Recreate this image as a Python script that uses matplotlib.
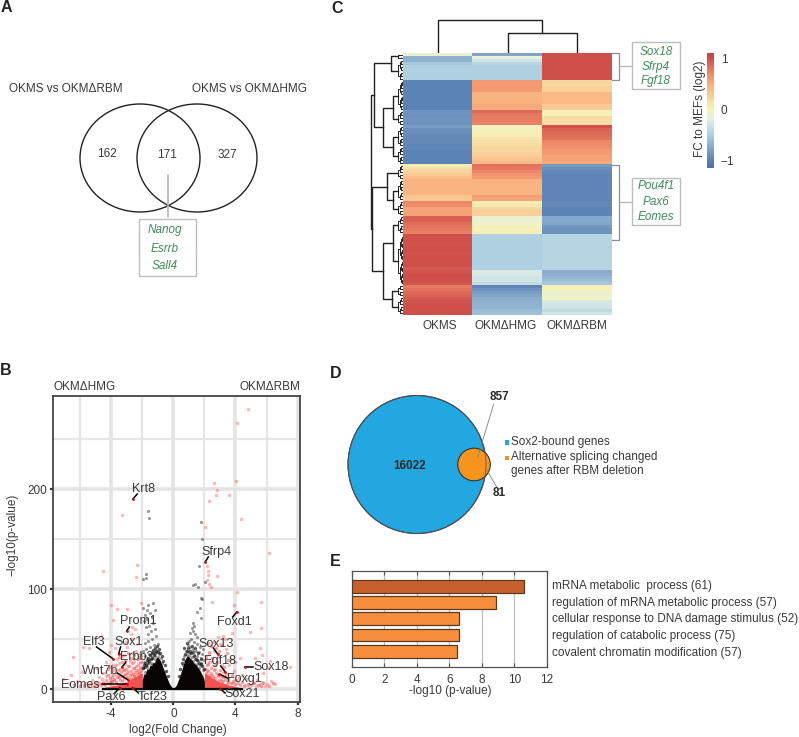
import matplotlib
matplotlib.use("Agg")
import matplotlib.pyplot as plt
import numpy as np
from matplotlib.colors import LinearSegmentedColormap
from matplotlib.patches import Ellipse, Circle, Rectangle

plt.rcParams['font.family'] = ['Liberation Sans', 'DejaVu Sans']

W, H = 799, 737
TXT = "#3a3a3a"
GREEN = "#3f8f5a"

# --- panel A
venn_a_counts = ["162", "171", "327"]
venn_a_genes = ["Nanog", "Esrrb", "Sall4"]

# --- panel C: row values per column, top to bottom
okms = [-0.12, -0.7, -0.7, -0.55, -0.5, -0.5, -0.5, -0.5, -0.5,
        -1.0, -1.0, -1.0, -1.0, -1.0, -1.0, -1.0, -1.0, -1.0, -1.0,
        -0.88, -0.9, -0.9, -0.88, -0.9, -0.82, -0.92, -0.92, -0.95, -0.95, -0.95, -0.97, -0.97, -1.0, -1.0, -1.0, -1.0, -1.0,
        0.03, 0.15, 0.22, 0.3, 0.38,
        0.45, 0.45, 0.45, 0.45, 0.45, 0.32, 0.3,
        0.72, 0.7, 0.55, 0.55, 0.58,
        0.92, 0.92, 0.85, 0.82, 0.8, 0.76,
        1.0, 1.0, 1.0, 0.98, 1.0, 1.0, 0.98, 1.0, 1.0, 1.0, 1.0, 0.95, 0.97, 1.0, 1.0, 1.0, 0.97,
        0.78, 0.82, 0.88, 0.9, 0.95, 0.97, 1.0, 1.0, 1.0, 1.0]
hmg = [-0.78, -0.15, -0.3, -0.45, -0.5, -0.5, -0.5, -0.5, -0.5,
       0.62, 0.6, 0.62, 0.6, 0.45, 0.45, 0.45, 0.48, 0.52, 0.5,
       0.88, 0.8, 0.78, 0.76, 0.74,
       -0.05, -0.02, 0.03, 0.05, 0.1, 0.14, 0.16, 0.2, 0.22, 0.25, 0.3, 0.35, 0.38,
       0.82, 0.8, 0.72, 0.66, 0.6,
       0.45, 0.45, 0.45, 0.45, 0.45, 0.58, 0.55,
       0.05, 0.06, 0.2, 0.26, 0.25,
       -0.12, -0.1, -0.07, -0.03, 0.0, 0.02,
       -0.5, -0.5, -0.5, -0.5, -0.5, -0.5, -0.5, -0.5, -0.5, -0.5, -0.5, -0.5,
       -0.25, -0.25, -0.3, -0.32, -0.38,
       -0.98, -0.9, -0.82, -0.78, -0.72, -0.7, -0.7, -0.68, -0.62, -0.6]
rbm = [1.0, 1.0, 1.0, 1.0, 1.0, 1.0, 1.0, 1.0, 1.0,
       0.2, 0.2, 0.25, 0.25, 0.42, 0.42, 0.42, 0.42, 0.3, 0.28,
       0.0, 0.02, 0.15, 0.15, 0.17,
       1.0, 0.9, 0.88, 0.85, 0.82, 0.72, 0.7, 0.66, 0.62, 0.6, 0.56, 0.55, 0.52,
       -0.85, -0.92, -0.95, -0.98, -0.98, -0.98, -0.98, -0.98, -0.98, -0.98, -0.98, -0.98,
       -0.95, -0.95, -1.0, -1.0, -1.0,
       -0.75, -0.75, -0.78, -0.85, -0.9, -0.9,
       -0.46, -0.46, -0.46, -0.46, -0.46, -0.46, -0.46, -0.46, -0.46, -0.46, -0.46, -0.46,
       -0.72, -0.7, -0.65, -0.6, -0.55,
       0.02, 0.0, -0.1, -0.1, -0.05, -0.28, -0.3, -0.3, -0.42, -0.3]
heat_labels = ["OKMS", "OKMΔHMG", "OKMΔRBM"]
heat_stops = [-1.15, -1.0, -0.5, -0.2, 0.0, 0.45, 0.7, 1.0, 1.1]
heat_colors = ["#4a72ab", "#5c83b5", "#b0d1e2", "#e2f0e6", "#f7f3b8", "#fbb582", "#f08c69", "#d0504c", "#cc4440"]
# row dendrogram: (distance, upper child, lower child), a pair of ints is a row range
row_tree = (32.5,
            (29, (12.5, (0, 1), (2, 8)),
                 (20, (10, (9, 18), (19, 23)), (10, (24, 30), (31, 36)))),
            (31, (16, (37, 41), (10, (42, 48), (49, 53))),
                 (20, (10, (54, 59), (60, 76)), (11, (77, 80), (81, 86)))))
genes_top = ["Sox18", "Sfrp4", "Fgf18"]
genes_bottom = ["Pou4f1", "Pax6", "Eomes"]

# --- panel B: volcano
red_x = [4.83, 4.1, 2.64, 4.03, 2.83, 2.75, 3.6, 2.32, 4.36, 2.02, 6.14, 2.19, 2.23, 2.25, 2.83, 2.19, 2.3, 2.42,
         4.12, 2.49, 5.62, 3.9, 5.67, 4.94, 3.76, 3.18, 2.9, 5.58, 5.26, 5.69, 6.22, 7.5, 5.8, 4.3, 6.1, 3.3, 3.0,
         2.6, 2.3, 2.9, 3.4, 2.2, 2.5, 3.1, 3.7, 2.15, 2.7, 3.2, 3.6, 4.0, 2.4, 2.85, 3.3, 3.9, 4.4, 2.1, 2.55, 3.05,
         3.5, 4.2, 4.7, 5.1, 5.4, 5.7, 6.0, 6.3, 6.55, 5.0, 5.3, 5.55, 5.9, 4.6, 4.9, 3.8, 3.45, 2.35, 2.75, 3.15,
         -3.28, -2.36, -2.38, -4.5, -4.03, -3.65, -2.96, -2.1, -3.86, -2.68, -4.68, -4.0, -6.48, -5.4, -5.8, -4.3, -4.94,
         -5.9, -6.55, -7.08, -6.7, -6.2, -5.6, -5.2, -4.8, -4.5, -4.2, -3.9, -3.6, -3.3, -3.0, -2.7, -2.4, -2.2,
         -5.0, -4.6, -4.3, -4.0, -3.7, -3.4, -3.1, -2.8, -2.5, -2.2, -4.4, -4.1, -3.8, -3.5, -3.2, -2.9, -2.6, -2.3,
         -3.9, -3.6, -3.3, -3.0, -2.7, -2.4, -2.1, -3.4, -3.1, -2.8, -2.5, -2.2, -3.2, -2.9, -2.6, -2.3, -2.15, -3.5,
         -2.45, -2.75, -3.05, -3.75, -4.15, -2.2, -2.55, -2.9, -3.25, -2.35, -2.65, -3.95, -3.15, -2.2, -2.5, -2.85]
red_y = [280, 266, 206, 208, 199, 194, 194, 188, 170, 162, 136, 123, 118, 114, 113, 109, 105, 102,
         97, 87, 87, 84, 61, 57, 56, 53, 52, 41, 31, 34, 28, 22, 16, 31, 21, 50, 45,
         38, 35, 33, 40, 25, 28, 24, 30, 19, 20, 17, 24, 27, 14, 13, 12, 18, 14, 11, 10, 9,
         9, 11, 10, 6, 9, 7, 5, 8, 5, 4, 3, 5, 3, 4, 3, 6, 5, 7, 6, 6,
         174, 124, 112, 118, 84, 80, 80, 86, 69, 62, 53, 44, 32, 41, 42, 27, 21,
         17, 14, 10, 6, 8, 6, 9, 12, 16, 20, 24, 30, 33, 42, 50, 38, 35,
         7, 10, 13, 8, 15, 20, 25, 28, 30, 26, 4, 5, 9, 11, 14, 18, 21, 24,
         3, 5, 8, 11, 15, 19, 22, 4, 6, 10, 13, 17, 3, 5, 8, 11, 14, 26,
         60, 55, 47, 41, 37, 32, 27, 23, 19, 45, 36, 12, 34, 7, 9, 6]
# the dense parts near the floor
red_left_pairs = [(-2.05, 18), (-2.1, 14), (-2.15, 21), (-2.2, 16), (-2.25, 12), (-2.3, 19), (-2.35, 15), (-2.4, 23),
                  (-2.45, 17), (-2.5, 13), (-2.55, 21), (-2.6, 15), (-2.65, 26), (-2.7, 11), (-2.75, 18), (-2.8, 14),
                  (-2.85, 23), (-2.95, 16), (-3.0, 12), (-3.05, 20), (-3.1, 15), (-3.15, 10), (-3.2, 19), (-3.3, 13),
                  (-3.35, 17), (-3.45, 9), (-3.5, 13), (-3.55, 19), (-3.65, 12), (-3.7, 7), (-3.8, 10), (-3.85, 14),
                  (-3.95, 8), (-4.05, 11), (-4.1, 7), (-4.2, 14), (-4.25, 6), (-4.35, 9), (-4.45, 5), (-4.55, 7),
                  (-4.65, 4), (-4.75, 6), (-4.9, 4), (-5.1, 3), (-5.3, 5), (-5.5, 3), (-5.75, 4), (-6.0, 3), (-6.4, 4),
                  (-2.05, 27), (-2.1, 33), (-2.3, 30), (-2.5, 34), (-2.7, 31), (-2.9, 36), (-3.1, 29), (-3.3, 27),
                  (-3.5, 32), (-3.7, 24), (-3.9, 19), (-4.1, 22)]
red_right_pairs = [(2.05, 20), (2.1, 16), (2.15, 24), (2.2, 14), (2.25, 18), (2.3, 27), (2.35, 12), (2.4, 21), (2.45, 16),
                   (2.5, 31), (2.55, 13), (2.6, 19), (2.65, 24), (2.7, 11), (2.75, 16), (2.8, 27), (2.9, 14), (2.95, 9),
                   (3.0, 19), (3.05, 13), (3.1, 8), (3.2, 12), (3.25, 22), (3.35, 9), (3.4, 15), (3.5, 7), (3.55, 11),
                   (3.7, 6), (3.75, 14), (3.85, 8), (3.95, 5), (4.05, 9), (4.15, 6), (4.3, 4), (4.45, 7), (4.55, 3),
                   (4.8, 5), (5.2, 6), (5.45, 4), (5.65, 3), (5.75, 6), (6.15, 3), (6.4, 6), (2.1, 32), (2.3, 37),
                   (2.45, 43), (2.6, 47), (2.75, 41), (2.95, 38), (3.15, 44), (3.45, 36), (3.55, 29), (2.2, 46)]
gray_x = [1.8, 1.87, 1.63, 2.02, 1.39, 1.29, 1.6, 1.76, 1.87, 1.72, 1.55, 1.76, 1.29, 1.18, 1.35, 1.1, 1.25, 1.4, 1.55,
          1.15, 1.0, 1.3, 1.5, 1.7, 1.9, 0.95, 1.1, 1.25, 1.45, 1.65, 1.85, 0.8, 0.95, 1.1, 1.3, 1.55, 1.75, 1.95,
          0.7, 0.85, 1.0, 1.2, 1.4, 1.6, 1.8, 0.9, 1.05, 1.25, 1.5, 1.7, 0.6, 0.75, 1.35, 1.65, 1.9, 1.15, 1.45,
          -1.6, -1.55, -1.76, -1.76, -1.97, -1.93, -1.29, -1.6, -1.72, -1.18, -1.5, -1.85, -1.4, -1.7, -1.9, -1.3, -1.55,
          -1.75, -1.2, -1.45, -1.65, -1.1, -1.35, -1.6, -1.85, -1.0, -1.25, -1.5, -1.75, -1.95, -1.05, -1.3, -1.55, -1.8,
          -0.9, -1.15, -1.4, -1.65, -1.9, -0.8, -1.0, -1.2, -1.45, -1.7, -1.95, -0.7, -0.9, -1.1, -1.35, -1.6, -1.85]
gray_y = [167, 150, 123, 107, 105, 104, 102, 91, 90, 81, 77, 71, 66, 61, 63, 56, 58, 55, 52,
          50, 48, 47, 45, 42, 40, 44, 42, 40, 38, 37, 35, 38, 37, 36, 34, 33, 31, 29,
          33, 34, 33, 32, 30, 28, 26, 30, 30, 28, 25, 24, 24, 28, 25, 21, 19, 27, 23,
          178, 171, 115, 111, 110, 81, 86, 84, 79, 79, 76, 74, 72, 70, 68, 66, 63,
          62, 60, 58, 55, 53, 50, 48, 46, 45, 44, 42, 40, 38, 38, 37, 35, 33,
          35, 33, 31, 29, 27, 31, 32, 30, 26, 23, 21, 26, 28, 27, 24, 20, 17]
dark_pairs = [(-1.95, 21), (-1.9, 24), (-1.85, 22), (-1.8, 26), (-1.75, 24), (-1.7, 29), (-1.65, 26), (-1.6, 31), (-1.55, 28),
              (-1.5, 34), (-1.45, 30), (-1.4, 36), (-1.35, 31), (-1.3, 39), (-1.25, 34), (-1.2, 41), (-1.15, 36), (-1.1, 38),
              (-1.05, 43), (-1.0, 37), (-0.95, 40), (-0.85, 36), (-0.75, 33), (-0.65, 28), (-0.55, 24), (-0.45, 18), (-0.35, 13),
              (0.35, 13), (0.45, 20), (0.55, 26), (0.65, 30), (0.75, 35), (0.85, 38), (0.95, 41), (1.05, 38), (1.15, 36),
              (1.25, 37), (1.35, 33), (1.45, 30), (1.55, 29), (1.65, 26), (1.75, 25), (1.85, 23), (1.95, 20), (0.7, 41),
              (0.9, 46), (1.2, 43), (1.4, 41), (1.6, 36), (1.8, 30)]
cloud_x = [-2.0, -1.9, -1.8, -1.7, -1.6, -1.5, -1.4, -1.3, -1.2, -1.1, -1.0, -0.9, -0.8, -0.7, -0.6, -0.5, -0.4, -0.3, -0.2, -0.1,
           0.0, 0.1, 0.2, 0.3, 0.4, 0.5, 0.6, 0.7, 0.8, 0.9, 1.0, 1.1, 1.2, 1.3, 1.4, 1.5, 1.6, 1.7, 1.8, 1.9, 2.0]
cloud_y = [9, 15, 15, 20, 19, 24, 23, 27, 26, 31, 32, 30, 27, 23, 19, 15, 11, 7, 4, 2,
           0.5, 2, 4, 8, 12, 17, 22, 27, 31, 33, 32, 30, 29, 26, 25, 23, 21, 19, 16, 13, 8]
red_left_x = [-4.4, -3.6, -3.0, -2.5, -2.0]
red_left_y = [2, 4, 7, 12, 16]
red_right_x = [2.0, 2.5, 3.0, 3.6, 4.2]
red_right_y = [16, 11, 7, 4, 2]
base_x = [-4.5, 4.4]
base_y = [0.3, 0.3]
volcano_genes = ["Krt8", "Sfrp4", "Prom1", "Foxd1", "Elf3", "Sox1", "Sox13", "Erbb3", "Fgf18", "Sox18",
                 "Wnt7b", "Foxg1", "Eomes", "Sox21", "Tcf23", "Pax6"]
label_x = [-1.93, 2.79, -2.23, 3.95, -5.15, -2.9, 2.75, -2.36, 3.0, 6.27, -4.72, 4.57, -6.0, 4.44, -1.33, -3.99]
label_y = [200, 137, 68, 67, 47, 47, 45, 32, 28, 22, 18, 10, 4, -5, -8, -8]
lead_x0 = [-2.32, 2.25, -2.83, 3.82, -4.94, -3.39, 2.58, -3.05, 3.05, 5.15, -3.6, 3.48, -4.61, 3.33, -2.25, -3.76]
lead_y0 = [195, 132, 62, 72, 42, 42, 41, 27, 23, 22, 16, 11, 5, -4, -4, -4]
lead_x1 = [-2.6, 2.05, -3.0, 4.08, -3.86, -3.52, 2.85, -3.3, 3.35, 4.64, -2.9, 2.96, -3.0, 3.0, -2.62, -3.43]
lead_y1 = [190, 127, 58, 77, 30, 35, 35, 22, 17, 22, 9, 15, 5, 0.5, 1.5, 1.5]

# --- panel D
venn_d_counts = ["16022", "857", "81"]
legend_d = ["Sox2-bound genes", "Alternative splicing changed", "genes after RBM deletion"]

# --- panel E
terms = ["mRNA metabolic  process (61)", "regulation of mRNA metabolic process (57)",
         "cellular response to DNA damage stimulus (52)", "regulation of catabolic process (75)",
         "covalent chromatin modification (57)"]
term_values = [10.6, 8.85, 6.6, 6.58, 6.5]
bar_colors = ["#c8602b", "#f68e3e", "#f68e3e", "#f68e3e", "#f68e3e"]


def px_axes(fig, l, t, r, b):
    return fig.add_axes([l / W, 1 - b / H, (r - l) / W, (b - t) / H])


fig = plt.figure(figsize=(W / 100, H / 100), dpi=100)

# overlay in pixel coordinates for labels and hand placed annotation
ov = fig.add_axes([0, 0, 1, 1], zorder=10)
ov.set_xlim(0, W)
ov.set_ylim(H, 0)
ov.axis("off")
ov.patch.set_alpha(0)


def t(x, y, s, size=8.5, ha="center", va="center", color=TXT, **kw):
    ov.text(x, y, s, fontsize=size, ha=ha, va=va, color=color, **kw)


for lab, x, y in [("A", 6, 7), ("C", 337, 8), ("B", 6, 370), ("D", 336, 373), ("E", 335, 562)]:
    t(x, y, lab, size=11.5, weight="bold", color="#222222")

# A
t(66, 89, "OKMS vs OKMΔRBM")
t(249, 89, "OKMS vs OKMΔHMG")
ov.add_patch(Ellipse((140, 158), 120, 108, fill=False, ec="#222222", lw=1))
ov.add_patch(Ellipse((197, 158), 120, 108, fill=False, ec="#222222", lw=1))
for x, y, s in zip([107, 167, 227], [154, 155, 155], venn_a_counts):
    t(x, y, s)
ov.plot([168, 168], [175, 217], color="#b5b5b5", lw=1.2)
ov.add_patch(Rectangle((139, 219), 57, 57, fill=False, ec="#bdbdbd", lw=1))
for y, g in zip([230, 249, 266], venn_a_genes):
    t(165, y, g, color=GREEN, style="italic")

# C heat map
ax_heat = px_axes(fig, 403, 53, 612, 315)
norm = [(s - heat_stops[0]) / (heat_stops[-1] - heat_stops[0]) for s in heat_stops]
cmap = LinearSegmentedColormap.from_list("fc", list(zip(norm, heat_colors)))
heat = np.array([okms, hmg, rbm]).T
ax_heat.imshow(heat, aspect="auto", cmap=cmap, vmin=heat_stops[0], vmax=heat_stops[-1], interpolation="nearest")
ax_heat.set_xticks([])
ax_heat.set_yticks([])
for s in ax_heat.spines.values():
    s.set_visible(False)
for x, s in zip([440, 506, 577], heat_labels):
    t(x, 326, s)

# column dendrogram
ax_top = px_axes(fig, 403, 15, 612, 53)
ax_top.set_xlim(-0.5, 2.5)
ax_top.set_ylim(0, 38)
ax_top.axis("off")
ax_top.plot([1, 1, 2, 2], [0, 20.5, 20.5, 0], color="#222222", lw=1)
ax_top.plot([0, 0, 1.5, 1.5], [0, 33, 33, 20.5], color="#222222", lw=1)

# row dendrogram
ax_den = px_axes(fig, 368, 53, 403, 315)
ax_den.set_xlim(35, 0)
ax_den.set_ylim(len(okms) - 0.5, -0.5)
ax_den.axis("off")


def draw_range(a, b, d):
    if a == b:
        return a
    m = (a + b) // 2
    d2 = max(d * 0.55, 0.5)
    y1 = draw_range(a, m, d2)
    y2 = draw_range(m + 1, b, d2)
    ax_den.plot([0 if a == m else d2, d, d, 0 if m + 1 == b else d2], [y1, y1, y2, y2], color="#222222", lw=0.7)
    return (y1 + y2) / 2


def draw_node(node, d_parent):
    if len(node) == 2:
        d = min(d_parent * 0.6, 5)
        return draw_range(node[0], node[1], d), d
    y1, d1 = draw_node(node[1], node[0])
    y2, d2 = draw_node(node[2], node[0])
    ax_den.plot([d1, node[0], node[0], d2], [y1, y1, y2, y2], color="#222222", lw=1)
    return (y1 + y2) / 2, node[0]


draw_node(row_tree, 35)

# brackets and gene boxes
for top, bot, ymid, by0, by1, genes, ys in [(53, 80, 66, 42, 89, genes_top, [52, 67, 81]),
                                            (165, 240, 202, 178, 225, genes_bottom, [186, 202, 217])]:
    ov.plot([612, 619, 619, 612], [top, top, bot, bot], color="#8f8f8f", lw=0.9)
    ov.plot([619, 632], [ymid, ymid], color="#b5b5b5", lw=0.9)
    ov.add_patch(Rectangle((632, by0), 48, by1 - by0, fill=False, ec="#bdbdbd", lw=1))
    for y, g in zip(ys, genes):
        t(656, y, g, color=GREEN, style="italic")

# colour bar
ax_cb = px_axes(fig, 707, 53, 714, 168)
grad = np.linspace(heat_stops[-1], heat_stops[0], 200).reshape(-1, 1)
ax_cb.imshow(grad, aspect="auto", cmap=cmap, vmin=heat_stops[0], vmax=heat_stops[-1],
             extent=[0, 1, heat_stops[0], heat_stops[-1]])
ax_cb.set_xticks([])
ax_cb.yaxis.tick_right()
ax_cb.set_yticks([-1, 0, 1], labels=["−1", "0", "1"], fontsize=8.5, color=TXT)
ax_cb.tick_params(axis="y", length=0, pad=5)
for s in ax_cb.spines.values():
    s.set_visible(False)
t(700, 109, "FC to MEFs (log2)", rotation=90)

# B volcano
ax = px_axes(fig, 53, 396, 300, 702)
ax.set_xlim(-7.74, 8.15)
ax.set_ylim(-13, 293)
ax.set_axisbelow(True)
for v in [-6, -2, 2, 6]:
    ax.axvline(v, color="#e6e6e6", lw=1.6, zorder=0)
for v in [-4, 0, 4, 8]:
    ax.axvline(v, color="#e4e4e4", lw=2.6, zorder=0)
for v in [50, 150, 250]:
    ax.axhline(v, color="#e6e6e6", lw=1.6, zorder=0)
for v in [0, 100, 200]:
    ax.axhline(v, color="#e4e4e4", lw=2.6, zorder=0)
left_x, left_y = zip(*red_left_pairs)
right_x, right_y = zip(*red_right_pairs)
dark_x, dark_y = zip(*dark_pairs)
ax.fill_between(red_left_x, 0, red_left_y, color="#f2403f", lw=0, alpha=0.9, zorder=1)
ax.fill_between(red_right_x, 0, red_right_y, color="#f2403f", lw=0, alpha=0.9, zorder=1)
ax.scatter(red_x, red_y, s=6, color="#ff5050", alpha=0.42, lw=0, zorder=2)
ax.scatter(left_x, left_y, s=6, color="#ff4040", alpha=0.5, lw=0, zorder=2)
ax.scatter(right_x, right_y, s=6, color="#ff4040", alpha=0.5, lw=0, zorder=2)
ax.scatter(gray_x, gray_y, s=5, color="#333333", alpha=0.5, lw=0, zorder=2)
ax.scatter(dark_x, dark_y, s=6, color="#1a1a1a", alpha=0.7, lw=0, zorder=2)
ax.fill_between(cloud_x, 0, cloud_y, color="#0a0505", lw=0, zorder=3)
ax.plot(base_x, base_y, color="#0a0505", lw=1.6, zorder=3)
for g, lx, ly, x0, y0, x1, y1 in zip(volcano_genes, label_x, label_y, lead_x0, lead_y0, lead_x1, lead_y1):
    ax.plot([x0, x1], [y0, y1], color="black", lw=1.1, zorder=4)
    ax.scatter([x1], [y1], s=4, color="#d01010", lw=0, zorder=5)
    ax.text(lx, ly, g, fontsize=9, ha="center", va="center", color=TXT, zorder=6)
ax.set_xticks([-4, 0, 4, 8])
ax.set_yticks([0, 100, 200])
ax.tick_params(axis="both", labelsize=8.5, labelcolor=TXT, length=2.5, width=1.6, color="#333333", pad=2)
ax.set_xticklabels(["-4", "0", "4", "8"])
for s in ax.spines.values():
    s.set_linewidth(1.3)
    s.set_color("#444444")
t(53, 387, "OKMΔHMG", ha="left")
t(300, 387, "OKMΔRBM", ha="right")
t(178, 730, "log2(Fold Change)")
t(12, 535, "−log10(p-value)", rotation=90)

# D
ov.add_patch(Circle((417, 464.5), 69, fc="#22a7e0", ec="#333333", lw=0.8))
ov.add_patch(Circle((474, 464.5), 16.3, fc="#f7941d", ec="#333333", lw=0.8))
ov.add_patch(Circle((417, 464.5), 69, fill=False, ec="#555555", lw=0.6))
ov.plot([477.7, 493.7], [457, 404], color="#808080", lw=0.6)
ov.plot([486.7, 496.7], [470, 487], color="#808080", lw=0.6)
for x, y, s in zip([409.7, 499, 499], [466, 397, 493], venn_d_counts):
    t(x, y, s, weight="bold", size=8.5, color="#2a2a2a")
ov.add_patch(Rectangle((504.5, 440), 4.5, 4.5, fc="#22a7e0", ec="none"))
ov.add_patch(Rectangle((504.5, 455.5), 4.5, 4.5, fc="#f7941d", ec="none"))
for y, s in zip([441.5, 457, 471], legend_d):
    t(510.7, y, s, ha="left")

# E
ax_e = px_axes(fig, 351.7, 570.7, 546.7, 667)
ypos = np.arange(len(terms))
ax_e.barh(ypos, term_values, height=0.8, color=bar_colors, edgecolor="#5a3a20", lw=0.9, zorder=3)
ax_e.set_xlim(0, 12)
ax_e.set_ylim(4.98, -0.98)
ax_e.grid(axis="x", color="#bdbdbd", lw=0.9, zorder=0)
ax_e.set_yticks([])
ax_e.set_xticks(range(0, 13, 2))
ax_e.tick_params(axis="x", labelsize=8.5, labelcolor=TXT, direction="in", top=True, length=3, width=0.8, color="#555555", pad=5)
for s in ax_e.spines.values():
    s.set_color("#555555")
    s.set_linewidth(0.9)
for y, s in zip([586, 602.7, 619, 636, 652.7], terms):
    t(551.7, y, s, ha="left")
t(450, 691, "-log10 (p-value)")

fig.savefig("out.png", dpi=100)
